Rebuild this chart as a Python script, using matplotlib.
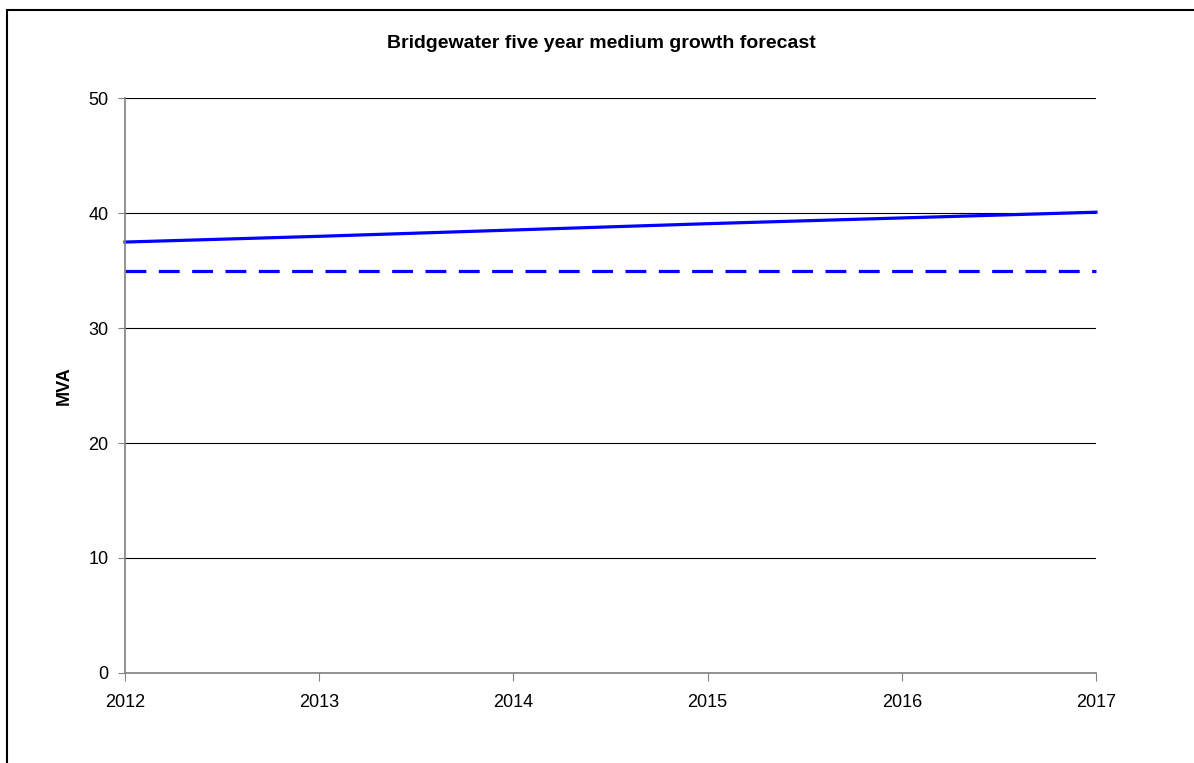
import matplotlib
matplotlib.use("Agg")
import matplotlib.pyplot as plt
from matplotlib.patches import Rectangle

plt.rcParams['font.family'] = ['Liberation Sans', 'DejaVu Sans']
plt.rcParams['lines.scale_dashes'] = False

years = [2012, 2013, 2014, 2015, 2016, 2017]
forecast = [37.5, 38.0, 38.55, 39.1, 39.6, 40.1]
rating = [35, 35, 35, 35, 35, 35]
yticks = [0, 10, 20, 30, 40, 50]

W, H = 1194, 763
fig = plt.figure(figsize=(W/100, H/100), dpi=100)
# outer chart frame, only its top and left edges fall inside the picture
fig.patches.append(Rectangle((7/W, -0.2), 1.2, 1.2-10/H, transform=fig.transFigure,
                             fill=False, edgecolor='black', linewidth=1.5))

ax = fig.add_axes([125/W, 1-672.7/H, (1096-125)/W, (672.7-98.5)/H])
ax.set_xlim(2012, 2017)
ax.set_ylim(0, 50)
ax.set_yticks(yticks)
ax.set_xticks(years)
ax.grid(axis='y', color='black', linewidth=0.8)
ax.set_axisbelow(True)
for s in ['top', 'right']:
    ax.spines[s].set_visible(False)
for s in ['left', 'bottom']:
    ax.spines[s].set_color('#808080')
    ax.spines[s].set_linewidth(1.2)
ax.tick_params(axis='y', length=5, color='#808080', labelsize=13, pad=7)
ax.tick_params(axis='x', length=6, color='#808080', labelsize=13, pad=9)

ax.plot(years, forecast, color='#0000ff', linewidth=2.3, clip_on=False)
ax.plot(years, rating, color='#0000ff', linewidth=2.3, dashes=(15, 9), clip_on=False)

ax.set_ylabel('MVA', fontsize=13, fontweight='bold', labelpad=11)
fig.text(601/W, 1-44/H, 'Bridgewater five year medium growth forecast',
         ha='center', va='center', fontsize=14, fontweight='bold')

fig.savefig('out.png', dpi=100)
